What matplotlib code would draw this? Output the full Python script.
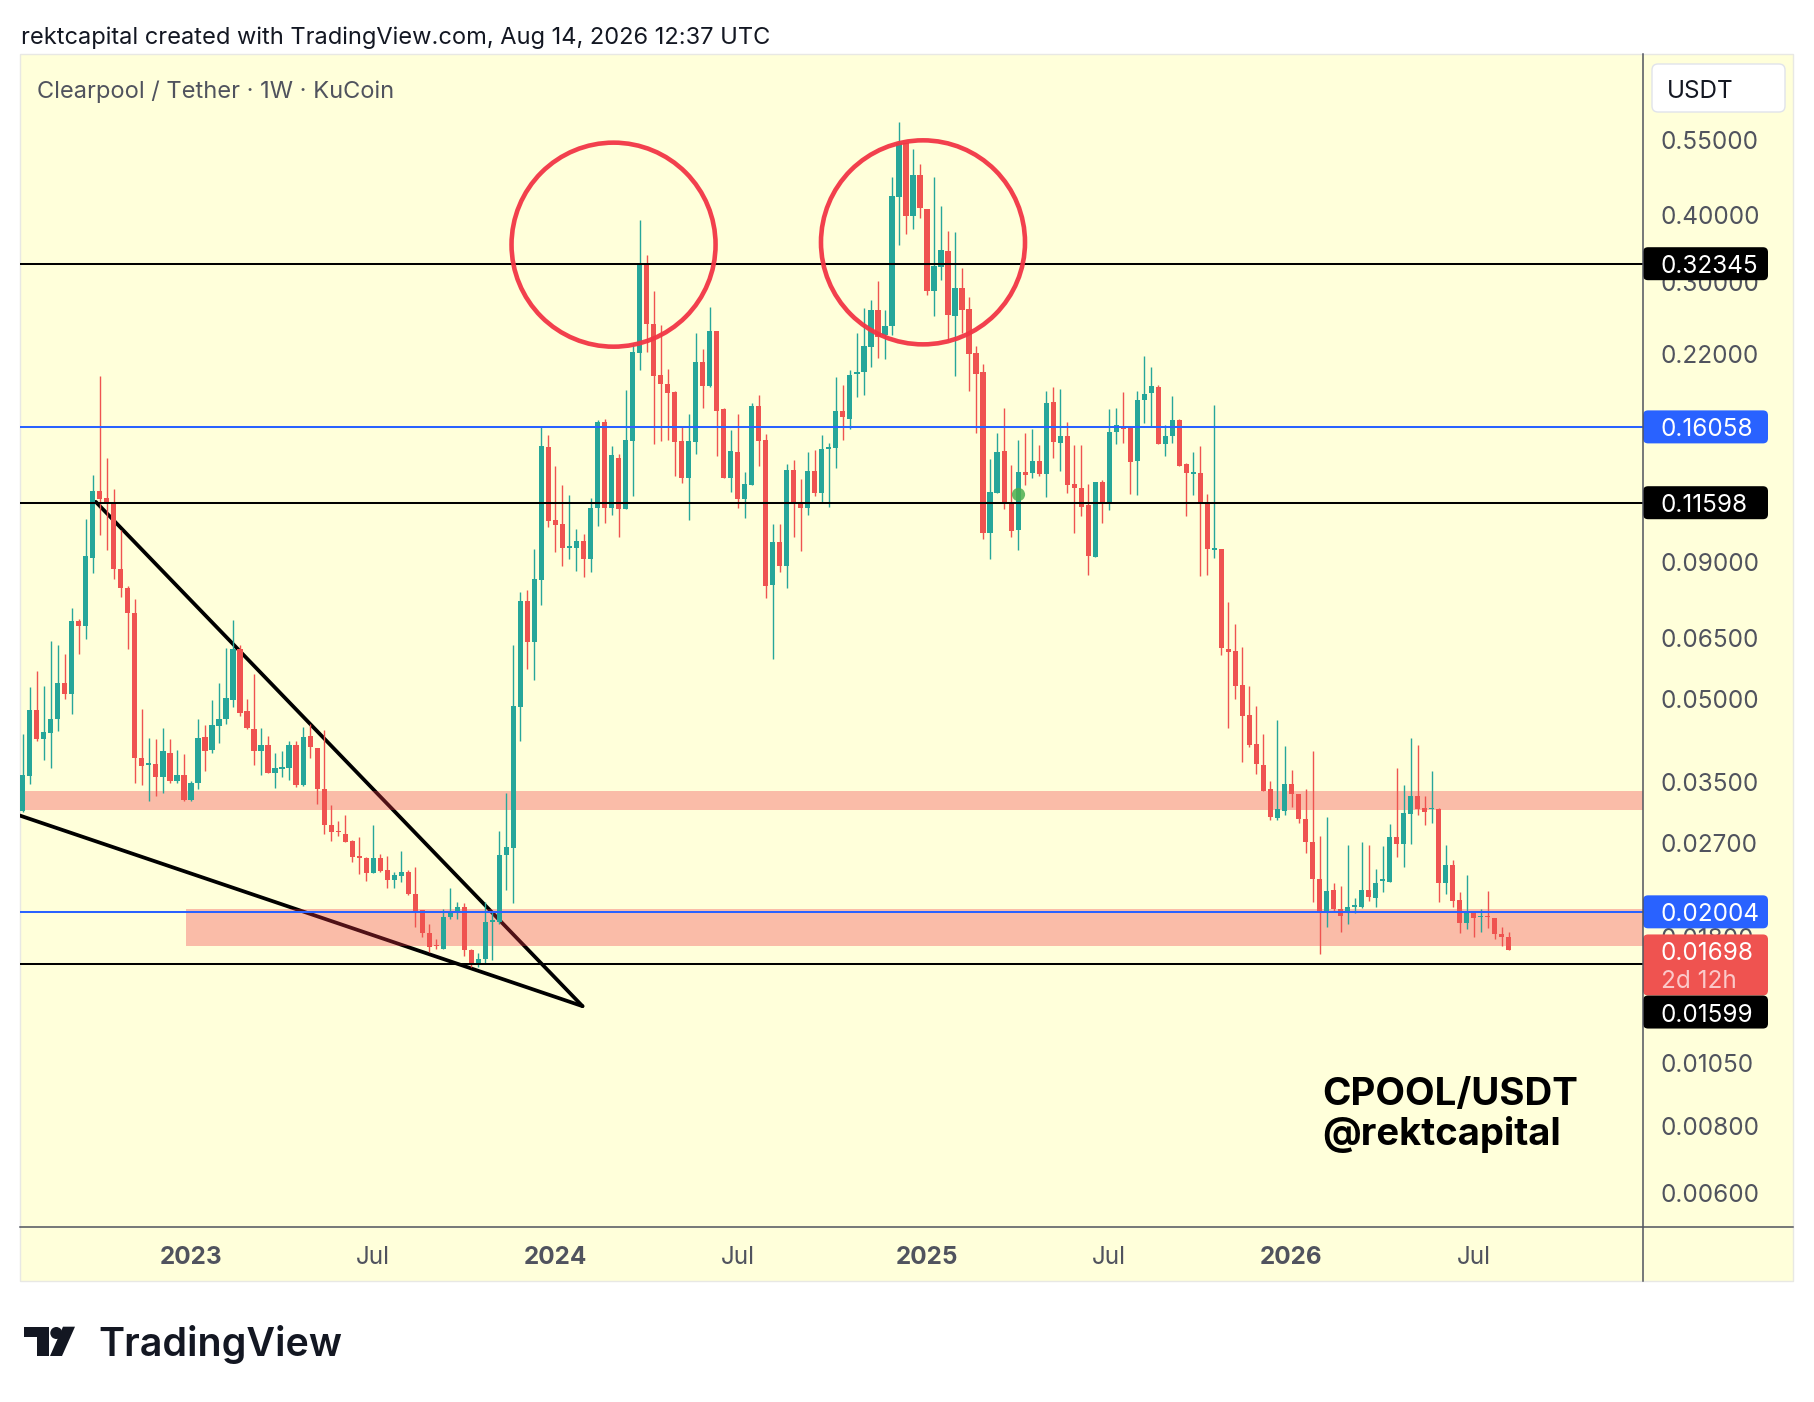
import numpy as np
import pandas as pd
import matplotlib
matplotlib.use('Agg')
import matplotlib.pyplot as plt
import matplotlib.dates as mdates
from matplotlib.patches import Rectangle, FancyBboxPatch, Circle, Polygon
from matplotlib.lines import Line2D
from matplotlib.transforms import IdentityTransform, blended_transform_factory, offset_copy

plt.rcParams['font.family'] = ['Inter', 'DejaVu Sans']

# ---------------- data (weekly candles, CPOOL/USDT) ----------------
start_date = '2022-07-18'
opens = [
0.0309, 0.0359, 0.0476, 0.0420, 0.0432, 0.0458, 0.0536, 0.0511, 0.0697, 0.0683,
0.0915, 0.1219, 0.1182, 0.1161, 0.0871, 0.0805, 0.0724, 0.0387, 0.0377, 0.0378,
0.0357, 0.0397, 0.0351, 0.0361, 0.0324, 0.0348, 0.0425, 0.0401, 0.0445, 0.0458,
0.0497, 0.0619, 0.0474, 0.0439, 0.0400, 0.0410, 0.0364, 0.0371, 0.0371, 0.0410,
0.0346, 0.0427, 0.0405, 0.0340, 0.0291, 0.0284, 0.0280, 0.0272, 0.0255, 0.0253,
0.0237, 0.0253, 0.0240, 0.0230, 0.0234, 0.0238, 0.0216, 0.0202, 0.0183, 0.0174,
0.0171, 0.0196, 0.0199, 0.0205, 0.0170, 0.0160, 0.0164, 0.0192, 0.0192, 0.0256,
0.0264, 0.0483, 0.0760, 0.0638, 0.0834, 0.1474, 0.1076, 0.1058, 0.0957, 0.0955,
0.0983, 0.0909, 0.1136, 0.1637, 0.1134, 0.1408, 0.1131, 0.1512, 0.2207, 0.3230,
0.2492, 0.2005, 0.1929, 0.1866, 0.1510, 0.1290, 0.1506, 0.2118, 0.1915, 0.2422,
0.1731, 0.1290, 0.1443, 0.1178, 0.1254, 0.1756, 0.1517, 0.0814, 0.0980, 0.0883,
0.1334, 0.1159, 0.1134, 0.1328, 0.1210, 0.1459, 0.1468, 0.1719, 0.1660, 0.2011,
0.2034, 0.2265, 0.2651, 0.2381, 0.2475, 0.4300, 0.5422, 0.3969, 0.4733, 0.4089,
0.2877, 0.3194, 0.3416, 0.2587, 0.2910, 0.2663, 0.2201, 0.2028, 0.1019, 0.1210,
0.1447, 0.1156, 0.1031, 0.1324, 0.1315, 0.1386, 0.1311, 0.1788, 0.1496, 0.1543,
0.1256, 0.1233, 0.1148, 0.0919, 0.1268, 0.1164, 0.1572, 0.1611, 0.1596, 0.1386,
0.1801, 0.1858, 0.1907, 0.1491, 0.1545, 0.1653, 0.1369, 0.1315, 0.1315, 0.1156,
0.0949, 0.0949, 0.0620, 0.0613, 0.0530, 0.0466, 0.0411, 0.0376, 0.0340, 0.0300,
0.0309, 0.0347, 0.0332, 0.0299, 0.0271, 0.0231, 0.0200, 0.0220, 0.0203, 0.0199,
0.0205, 0.0205, 0.0220, 0.0213, 0.0229, 0.0228, 0.0276, 0.0268, 0.0305, 0.0330,
0.0313, 0.0311, 0.0311, 0.0227, 0.0245, 0.0211, 0.0191, 0.0201, 0.0196, 0.0197,
0.0195, 0.0182, 0.0180]
highs = [
0.0429, 0.0525, 0.0563, 0.0528, 0.0640, 0.0629, 0.0605, 0.0737, 0.0705, 0.1081,
0.1305, 0.1997, 0.1408, 0.1229, 0.1031, 0.0812, 0.0766, 0.0478, 0.0423, 0.0420,
0.0442, 0.0421, 0.0401, 0.0394, 0.0351, 0.0459, 0.0446, 0.0497, 0.0534, 0.0622,
0.0700, 0.0629, 0.0499, 0.0555, 0.0442, 0.0427, 0.0397, 0.0399, 0.0418, 0.0418,
0.0443, 0.0448, 0.0405, 0.0438, 0.0317, 0.0296, 0.0304, 0.0273, 0.0276, 0.0254,
0.0291, 0.0257, 0.0255, 0.0238, 0.0260, 0.0240, 0.0243, 0.0202, 0.0190, 0.0178,
0.0203, 0.0222, 0.0209, 0.0208, 0.0171, 0.0168, 0.0209, 0.0201, 0.0284, 0.0334,
0.0629, 0.0789, 0.0797, 0.0950, 0.1602, 0.1550, 0.1359, 0.1250, 0.1198, 0.1035,
0.1016, 0.1186, 0.1653, 0.1660, 0.1479, 0.1428, 0.1880, 0.2298, 0.3901, 0.3357,
0.2877, 0.2485, 0.2058, 0.1874, 0.1602, 0.1696, 0.2405, 0.2243, 0.2689, 0.2422,
0.1743, 0.1584, 0.1696, 0.1321, 0.1780, 0.1840, 0.1557, 0.1058, 0.1058, 0.1369,
0.1392, 0.1283, 0.1443, 0.1453, 0.1550, 0.1500, 0.1991, 0.1921, 0.2049, 0.2405,
0.2674, 0.2767, 0.3002, 0.2651, 0.4701, 0.5946, 0.5422, 0.5290, 0.4961, 0.4089,
0.4701, 0.4148, 0.3726, 0.3710, 0.3176, 0.2806, 0.2275, 0.2102, 0.1398, 0.1565,
0.1743, 0.1363, 0.1517, 0.1565, 0.1590, 0.1485, 0.1874, 0.1903, 0.1888, 0.1637,
0.1485, 0.1485, 0.1259, 0.1268, 0.1278, 0.1733, 0.1743, 0.1866, 0.1596, 0.1872,
0.2176, 0.2072, 0.1921, 0.1618, 0.1832, 0.1658, 0.1374, 0.1440, 0.1479, 0.1203,
0.1763, 0.0949, 0.0756, 0.0690, 0.0625, 0.0528, 0.0484, 0.0429, 0.0352, 0.0456,
0.0408, 0.0368, 0.0332, 0.0340, 0.0399, 0.0277, 0.0301, 0.0227, 0.0224, 0.0267,
0.0213, 0.0270, 0.0267, 0.0241, 0.0266, 0.0292, 0.0371, 0.0346, 0.0422, 0.0410,
0.0329, 0.0366, 0.0313, 0.0267, 0.0250, 0.0218, 0.0235, 0.0201, 0.0203, 0.0219,
0.0195, 0.0188, 0.0184]
lows = [
0.0308, 0.0347, 0.0418, 0.0384, 0.0372, 0.0436, 0.0499, 0.0468, 0.0605, 0.0646,
0.0858, 0.1010, 0.0946, 0.0836, 0.0775, 0.0619, 0.0349, 0.0345, 0.0322, 0.0330,
0.0334, 0.0349, 0.0349, 0.0322, 0.0323, 0.0340, 0.0367, 0.0396, 0.0414, 0.0449,
0.0482, 0.0465, 0.0440, 0.0376, 0.0360, 0.0363, 0.0341, 0.0358, 0.0353, 0.0343,
0.0344, 0.0387, 0.0319, 0.0280, 0.0272, 0.0277, 0.0270, 0.0248, 0.0236, 0.0229,
0.0237, 0.0238, 0.0222, 0.0222, 0.0228, 0.0215, 0.0188, 0.0180, 0.0169, 0.0171,
0.0171, 0.0194, 0.0194, 0.0166, 0.0158, 0.0158, 0.0161, 0.0163, 0.0190, 0.0220,
0.0208, 0.0418, 0.0567, 0.0541, 0.0749, 0.1045, 0.0937, 0.0884, 0.0910, 0.0865,
0.0843, 0.0862, 0.1050, 0.1064, 0.1102, 0.1001, 0.1131, 0.1195, 0.2049, 0.2217,
0.1495, 0.1512, 0.1517, 0.1301, 0.1260, 0.1079, 0.1432, 0.1743, 0.1902, 0.1418,
0.1290, 0.1212, 0.1134, 0.1084, 0.1254, 0.1357, 0.0772, 0.0592, 0.0862, 0.0803,
0.1001, 0.0943, 0.1099, 0.1193, 0.1156, 0.1140, 0.1347, 0.1517, 0.1589, 0.1827,
0.1840, 0.2078, 0.2160, 0.2148, 0.2381, 0.3504, 0.3674, 0.3753, 0.3930, 0.2827,
0.2584, 0.3015, 0.2330, 0.1999, 0.2398, 0.1874, 0.1561, 0.0991, 0.0910, 0.1210,
0.1131, 0.1001, 0.0946, 0.1250, 0.1290, 0.1301, 0.1189, 0.1405, 0.1328, 0.1210,
0.1019, 0.1094, 0.0852, 0.0919, 0.1061, 0.1126, 0.1495, 0.1500, 0.1203, 0.1201,
0.1634, 0.1602, 0.1491, 0.1416, 0.1500, 0.1357, 0.1096, 0.1198, 0.0846, 0.0849,
0.0915, 0.0603, 0.0441, 0.0499, 0.0381, 0.0406, 0.0362, 0.0337, 0.0297, 0.0297,
0.0303, 0.0314, 0.0293, 0.0258, 0.0209, 0.0167, 0.0188, 0.0201, 0.0184, 0.0190,
0.0199, 0.0204, 0.0210, 0.0205, 0.0218, 0.0228, 0.0254, 0.0243, 0.0268, 0.0304,
0.0291, 0.0294, 0.0209, 0.0216, 0.0205, 0.0183, 0.0186, 0.0180, 0.0184, 0.0187,
0.0178, 0.0173, 0.01698]
closes = [
0.0360, 0.0476, 0.0420, 0.0433, 0.0459, 0.0536, 0.0511, 0.0697, 0.0683, 0.0922,
0.1219, 0.1180, 0.1156, 0.0871, 0.0805, 0.0724, 0.0387, 0.0375, 0.0379, 0.0357,
0.0399, 0.0351, 0.0361, 0.0324, 0.0349, 0.0423, 0.0400, 0.0446, 0.0458, 0.0502,
0.0619, 0.0471, 0.0441, 0.0400, 0.0410, 0.0364, 0.0371, 0.0373, 0.0410, 0.0346,
0.0425, 0.0406, 0.0340, 0.0291, 0.0282, 0.0282, 0.0271, 0.0254, 0.0252, 0.0237,
0.0253, 0.0239, 0.0230, 0.0235, 0.0238, 0.0216, 0.0201, 0.0183, 0.0172, 0.0173,
0.0196, 0.0200, 0.0205, 0.0170, 0.0160, 0.0164, 0.0192, 0.0193, 0.0256, 0.0265,
0.0484, 0.0760, 0.0638, 0.0835, 0.1479, 0.1073, 0.1056, 0.0953, 0.0962, 0.0983,
0.0909, 0.1136, 0.1641, 0.1134, 0.1422, 0.1131, 0.1517, 0.2217, 0.3230, 0.2492,
0.1999, 0.1927, 0.1861, 0.1506, 0.1290, 0.1510, 0.2118, 0.1915, 0.2422, 0.1721,
0.1290, 0.1447, 0.1178, 0.1256, 0.1756, 0.1512, 0.0812, 0.0980, 0.0883, 0.1334,
0.1153, 0.1134, 0.1328, 0.1210, 0.1459, 0.1470, 0.1719, 0.1672, 0.2005, 0.2028,
0.2271, 0.2651, 0.2357, 0.2475, 0.4324, 0.5422, 0.3969, 0.4733, 0.4101, 0.2877,
0.3206, 0.3430, 0.2595, 0.2910, 0.2651, 0.2195, 0.2019, 0.1019, 0.1214, 0.1443,
0.1156, 0.1028, 0.1324, 0.1309, 0.1386, 0.1311, 0.1780, 0.1502, 0.1543, 0.1250,
0.1233, 0.1140, 0.0922, 0.1268, 0.1156, 0.1572, 0.1618, 0.1591, 0.1382, 0.1801,
0.1853, 0.1913, 0.1491, 0.1545, 0.1653, 0.1357, 0.1315, 0.1321, 0.1156, 0.0949,
0.0953, 0.0623, 0.0611, 0.0528, 0.0465, 0.0410, 0.0378, 0.0337, 0.0301, 0.0311,
0.0347, 0.0332, 0.0299, 0.0271, 0.0231, 0.0200, 0.0219, 0.0203, 0.0197, 0.0205,
0.0206, 0.0220, 0.0214, 0.0227, 0.0230, 0.0276, 0.0268, 0.0306, 0.0330, 0.0312,
0.0308, 0.0313, 0.0227, 0.0245, 0.0210, 0.0191, 0.0201, 0.0195, 0.0197, 0.0196,
0.0182, 0.0180, 0.01698]

price_ticks = [0.55, 0.40, 0.30, 0.22, 0.09, 0.065, 0.05, 0.035, 0.027, 0.018,
               0.0105, 0.008, 0.006]
time_ticks = ['2023-01-02', '2023-07-03', '2024-01-01', '2024-07-01',
              '2025-01-06', '2025-07-07', '2026-01-05', '2026-07-06']
time_labels = ['2023', 'Jul', '2024', 'Jul', '2025', 'Jul', '2026', 'Jul']

black_levels = [0.32345, 0.11598, 0.01599]
blue_levels = [0.16058, 0.02004]
zone_starts = ['2022-07-01', '2022-12-28']
zone_lows = [0.0310, 0.01733]
zone_highs = [0.0337, 0.0203]

wedge_upper = (['2022-09-29', '2024-01-28'], [0.1164, 0.01337])
wedge_lower = (['2022-07-15', '2024-01-28'], [0.0303, 0.01337])
circle_dates = ['2024-02-28', '2025-01-02']
circle_prices = [0.351, 0.3545]
marker_date = '2025-04-07'
marker_price = 0.1203

last_price = 0.01698
countdown = '2d 12h'

# ---------------- styling ----------------
GREEN = '#26a69a'
RED = '#ef5350'
BLUE = '#2962ff'
BG = '#ffffda'
TXT = '#50535e'
DARK = '#131722'
FS = 17.5
VOFF = 3  # px: vertical centring correction for digit labels

W, HH = 1814, 1402
fig = plt.figure(figsize=(W / 100, HH / 100), dpi=100)
fig.patch.set_facecolor('white')


def fx(x):
    return x / W


def fy(y):
    return 1 - y / HH


ID = IdentityTransform()

# chart frame background
fig.add_artist(Rectangle((20, HH - 1281), 1773, 1227, transform=ID,
                         facecolor=BG, edgecolor='#e8e8e4', lw=1.0, zorder=-5))

ax = fig.add_axes([fx(20), fy(1226.7), fx(1643) - fx(20), fy(54) - fy(1226.7)])
ax.set_axis_off()

dates = pd.date_range(start_date, periods=len(opens), freq='7D')
x = mdates.date2num(dates.to_pydatetime())
o = np.array(opens); h = np.array(highs); l = np.array(lows); c = np.array(closes)
up = c >= o
cols = np.where(up, GREEN, RED)
lo = np.minimum(o, c)
hi = np.maximum(o, c)
minr = 1.007
small = hi / lo < minr
mid = np.sqrt(hi * lo)
lo = np.where(small, mid / np.sqrt(minr), lo)
hi = np.where(small, mid * np.sqrt(minr), hi)

ax.set_yscale('log')
xmin = x[0] - 2.7
xmax = x[0] + 231.14 * 7
ax.set_xlim(xmin, xmax)
ax.set_ylim(0.005189, 0.7955)

# wedge trendlines
for dd, pp in (wedge_upper, wedge_lower):
    ax.plot(mdates.date2num(pd.to_datetime(dd).to_pydatetime()), pp, color='black',
            lw=2.7, solid_capstyle='round', zorder=1.5)

# zones
for zs, zl, zh in zip(zone_starts, zone_lows, zone_highs):
    zx = mdates.date2num(pd.Timestamp(zs).to_pydatetime())
    ax.fill_between([zx, xmax], zl, zh, color='#f23645', alpha=0.33, lw=0, zorder=2)

# candles
ax.vlines(x, l, h, colors=cols, lw=1.0, zorder=3)
ax.bar(x, hi - lo, bottom=lo, width=5.2, color=cols, lw=0, zorder=3.1)

# horizontal levels
for lv in black_levels:
    ax.axhline(lv, color='black', lw=1.45, zorder=4)
for lv in blue_levels:
    ax.axhline(lv, color=BLUE, lw=1.45, zorder=4)

# circles
cx = mdates.date2num(pd.to_datetime(circle_dates).to_pydatetime())
ax.scatter(cx, circle_prices, s=146.9 ** 2, facecolors='none', edgecolors='#f23645',
           linewidths=3.3, zorder=5, alpha=0.95)

# green marker
ax.plot(mdates.date2num(pd.Timestamp(marker_date).to_pydatetime()), marker_price, 'o',
        ms=9.5, color='#4caf50', alpha=0.85, mec='none', zorder=6)

# price tick labels
tr_y = offset_copy(blended_transform_factory(ID, ax.transData), fig=fig, y=-VOFF,
                   units='dots')
for t in price_ticks:
    ax.text(1661, t, f'{t:.5f}', transform=tr_y, ha='left', va='center',
            fontsize=FS, color=TXT, clip_on=False)

# time labels
tr_x = blended_transform_factory(ax.transData, ID)
for d, lab in zip(time_ticks, time_labels):
    xd = mdates.date2num(pd.Timestamp(d).to_pydatetime())
    ax.text(xd, HH - 1256 - 2, lab, transform=tr_x, ha='center', va='center',
            fontsize=FS, color=TXT, fontweight='bold' if lab != 'Jul' else 'normal',
            clip_on=False)


def ypx(p):
    return ax.transData.transform((xmin, p))[1]


def label_box(p, txt, fc, off=0.0, up_=16.5, dn=16.5):
    yc = ypx(p) - off
    fig.add_artist(FancyBboxPatch((1643, yc - dn), 125, up_ + dn,
                                  boxstyle='round,pad=0,rounding_size=5', transform=ID,
                                  fc=fc, ec='none', zorder=6))
    fig.text(1661, yc - VOFF, txt, transform=ID, ha='left', va='center', fontsize=FS,
             color='white', zorder=7)
    return yc


label_box(black_levels[0], f'{black_levels[0]:.5f}', 'black')
label_box(blue_levels[0], f'{blue_levels[0]:.5f}', BLUE)
label_box(black_levels[1], f'{black_levels[1]:.5f}', 'black')
label_box(blue_levels[1], f'{blue_levels[1]:.5f}', BLUE)
yc = label_box(last_price, f'{last_price:.5f}', RED, up_=16, dn=45)
fig.text(1661, yc - 28 - VOFF, countdown, transform=ID, ha='left', va='center',
         fontsize=FS, color='#fbc9c9', zorder=7)
label_box(black_levels[2], f'{black_levels[2]:.5f}', 'black', off=47.6)

# axis lines
fig.add_artist(Line2D([1643, 1643], [HH - 54, HH - 1281], transform=ID, color=TXT,
                      lw=1.1, zorder=8))
fig.add_artist(Line2D([20, 1793], [HH - 1226.7, HH - 1226.7], transform=ID, color=TXT,
                      lw=1.1, zorder=8))

# USDT box
fig.add_artist(FancyBboxPatch((1652, HH - 112), 133, 48,
                              boxstyle='round,pad=0,rounding_size=6', transform=ID,
                              fc='white', ec='#e0e3eb', lw=1, zorder=6))
fig.text(1667, HH - 88 - VOFF, 'USDT', transform=ID, ha='left', va='center', fontsize=FS,
         color=DARK, zorder=7)

# header and title
fig.text(fx(20.7), fy(44), 'rektcapital created with TradingView.com, Aug 14, 2026 12:37 UTC',
         va='baseline', ha='left', fontsize=17, color=DARK)
fig.text(fx(36.7), fy(98.3), 'Clearpool / Tether · 1W · KuCoin', va='baseline', ha='left',
         fontsize=17.0, color=TXT)

# watermark
fig.text(fx(1322), fy(1105), 'CPOOL/USDT', va='baseline', ha='left', fontsize=27.7,
         fontweight='bold', color='black')
fig.text(fx(1322), fy(1145), '@rektcapital', va='baseline', ha='left', fontsize=27.5,
         fontweight='bold', color='black')

# TradingView logo
fig.add_artist(Rectangle((24, HH - 1337), 25.3, 10.3, transform=ID, fc=DARK, ec='none'))
fig.add_artist(Rectangle((36.7, HH - 1356), 12.6, 29.3, transform=ID, fc=DARK, ec='none'))
fig.add_artist(Circle((56.3, HH - 1333), 6.0, transform=ID, fc=DARK, ec='none'))
fig.add_artist(Polygon([(63, HH - 1326.7), (75, HH - 1326.7), (62, HH - 1356), (50, HH - 1356)],
                       closed=True, transform=ID, fc=DARK, ec='none'))
fig.text(fx(98), fy(1356), 'TradingView', va='baseline', ha='left', fontsize=28.4,
         fontweight='semibold', color=DARK)

fig.savefig('out.png', dpi=100)
